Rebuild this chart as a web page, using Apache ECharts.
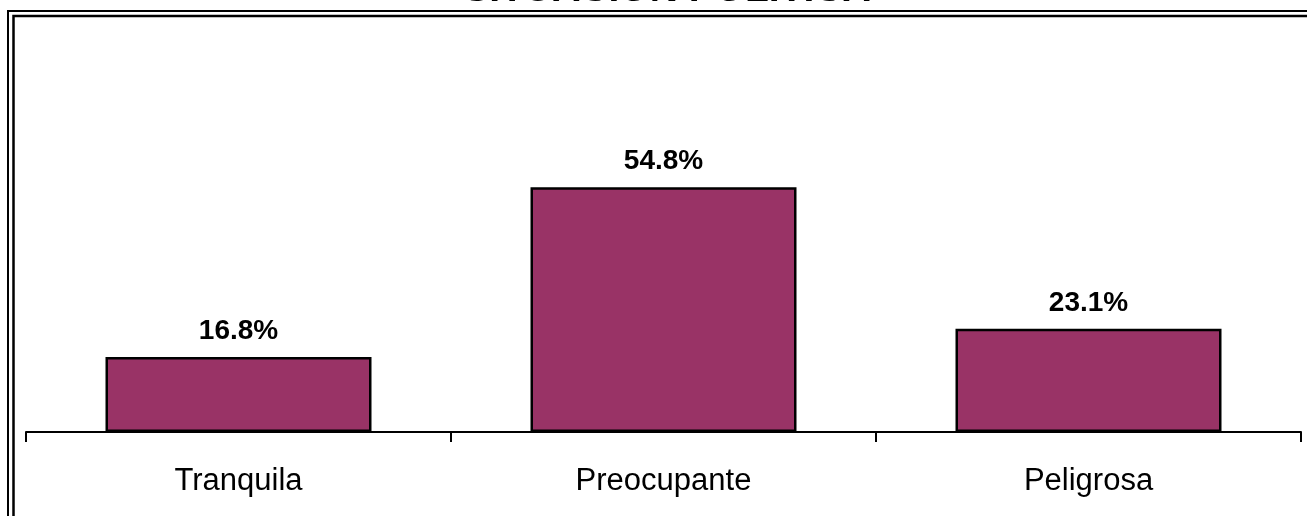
<!DOCTYPE html>
<html>
<head>
<meta charset="utf-8">
<style>
  html, body { margin: 0; padding: 0; background: #fff; }
  #chart { width: 1307px; height: 516px; }
</style>
<script src="https://cdn.jsdelivr.net/npm/echarts@6/dist/echarts.min.js"></script>
</head>
<body>
<div id="chart"></div>
<script>
// situación política
const titleText = 'SITUACIÓN POLÍTICA'
const categories = ['Tranquila', 'Preocupante', 'Peligrosa']
const values = [16.8, 54.8, 23.1]

const font = "'Liberation Sans', Arial, sans-serif"
const chart = echarts.init(document.getElementById('chart'))

chart.setOption({
  animation: false,
  backgroundColor: '#fff',
  graphic: [
    { // marco exterior
      type: 'rect',
      shape: { x: 8, y: 11, width: 1340, height: 560 },
      style: { fill: null, stroke: '#000', lineWidth: 2 }
    },
    { // marco interior
      type: 'rect',
      shape: { x: 13.5, y: 16, width: 1330, height: 560 },
      style: { fill: null, stroke: '#000', lineWidth: 2.5 }
    },
    {
      type: 'text',
      x: 667,
      y: -29,
      style: {
        text: titleText,
        font: 'bold 39px ' + font,
        fill: '#000',
        align: 'center',
        verticalAlign: 'top'
      }
    }
  ],
  grid: {
    left: 26,
    right: 6,
    top: 164,
    bottom: 84
  },
  xAxis: {
    type: 'category',
    data: categories,
    axisLine: { lineStyle: { color: '#000', width: 2 } },
    axisTick: { show: true, length: 10, lineStyle: { color: '#000', width: 2 } },
    axisLabel: {
      color: '#000',
      fontFamily: font,
      fontSize: 31,
      margin: 34
    }
  },
  yAxis: {
    type: 'value',
    min: 0,
    max: 60,
    show: false,
    splitLine: { show: false }
  },
  series: [{
    type: 'bar',
    data: values,
    barWidth: 266,
    itemStyle: {
      color: '#993366',
      borderColor: '#000',
      borderWidth: 2.5
    },
    label: {
      show: true,
      position: 'top',
      distance: 12,
      formatter: p => p.value.toFixed(1) + '%',
      color: '#000',
      fontFamily: font,
      fontWeight: 'bold',
      fontSize: 28
    }
  }]
})
</script>
</body>
</html>
